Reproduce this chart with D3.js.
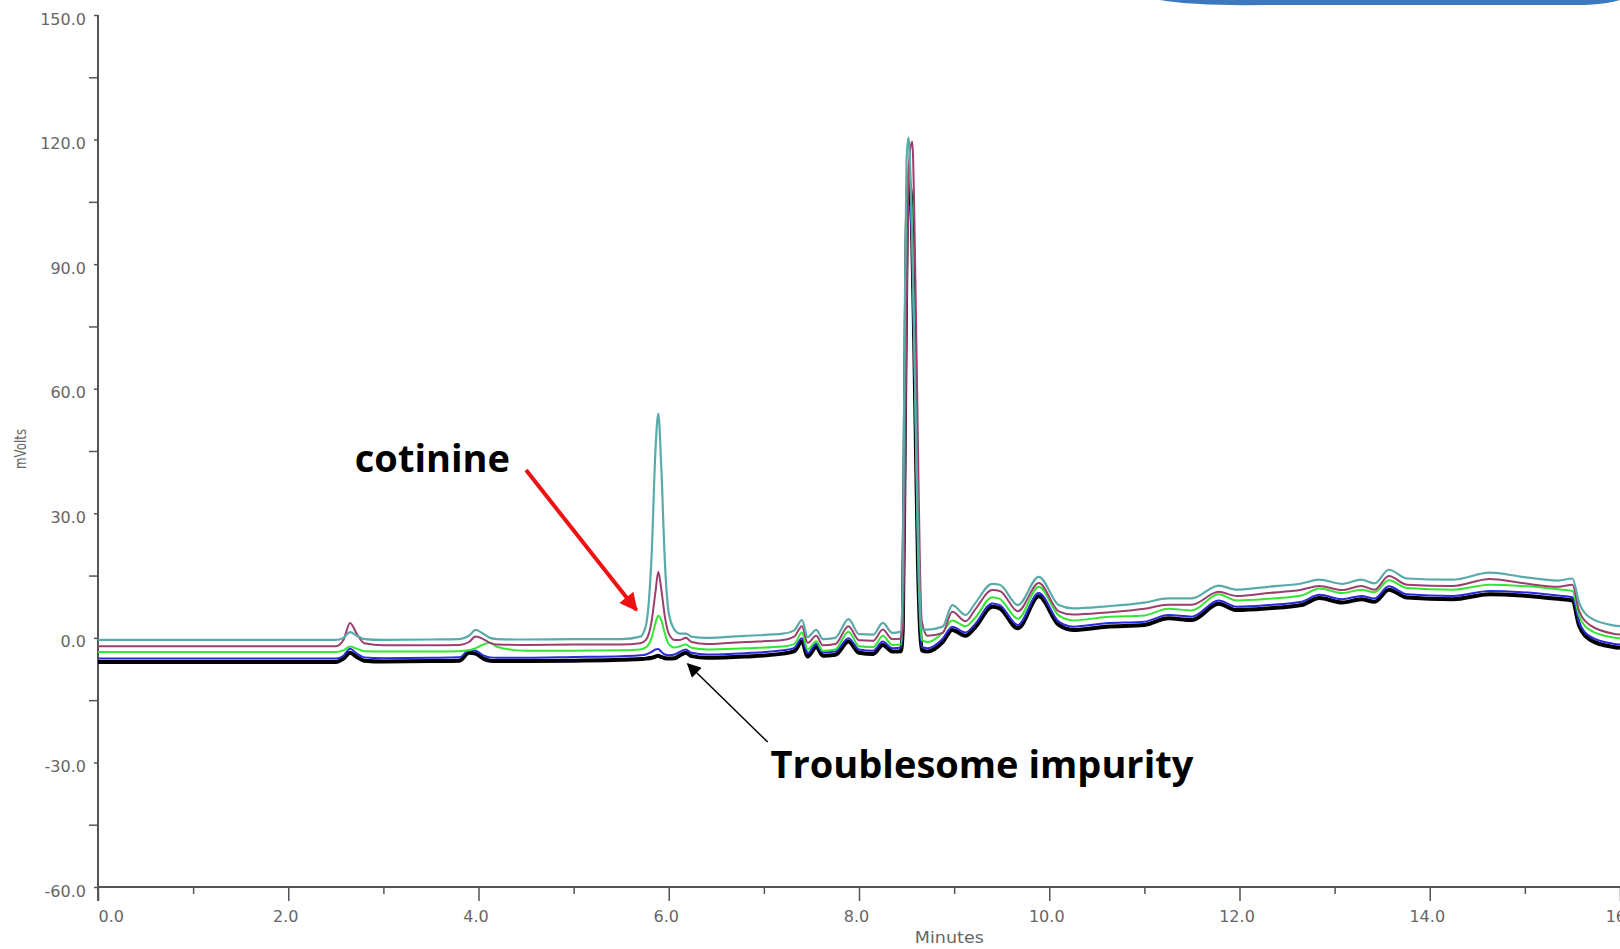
<!DOCTYPE html>
<html>

<head>
  <title>Cotinine chromatogram</title>
  <script src="https://d3js.org/d3.v7.min.js"></script>
  <style>
    body {
      margin: 0;
      background: #fff;
    }

    svg {
      display: block;
      background-color: #fff;
    }

    .tick text {
      font-family: "DejaVu Sans", Verdana, sans-serif;
      font-size: 16px;
      fill: #666;
    }

    .note {
      font-family: "Open Sans", "Noto Sans", sans-serif;
      font-weight: bold;
      fill: #000;
    }
  </style>
</head>

<body>
  <script>
    // retention time (minutes), shared by all traces
    const times = [
      0, 2.5, 2.58, 2.65, 2.72, 2.8, 3.0, 3.5, 3.8, 3.9,
      3.97, 4.05, 4.12, 4.2, 4.5, 5.0, 5.5, 5.7, 5.76, 5.82,
      5.86, 5.89, 5.92, 5.96, 6.0, 6.06, 6.12, 6.18, 6.24, 6.4,
      6.8, 7.2, 7.32, 7.4, 7.46, 7.55, 7.62, 7.75, 7.89, 8.0,
      8.15, 8.25, 8.35, 8.44, 8.46, 8.48, 8.50, 8.52, 8.54, 8.56,
      8.58, 8.60, 8.62, 8.64, 8.66, 8.72, 8.88, 8.98, 9.12, 9.22,
      9.4, 9.48, 9.67, 9.89, 10.1, 10.25, 10.6, 11.0, 11.25, 11.5,
      11.78, 11.97, 12.3, 12.65, 12.84, 13.08, 13.28, 13.42, 13.57, 13.76,
      14.24, 14.63, 14.97, 15.35, 15.5, 15.57, 15.69, 15.93, 16.0
    ];

    // mVolts per trace
    const tealTrace = [
      -0.5, -0.5, 0.0, 1.4, 0.5, -0.3, -0.5, -0.4, -0.3, 0.5,
      1.9, 1.0, 0.0, -0.3, -0.4, -0.3, -0.3, 0.3, 3.0, 20,
      45, 54, 42, 18, 6, 2, 1.0, 1.0, 0.3, 0.0,
      0.5, 1.0, 1.8, 4.3, 0.2, 1.9, -0.3, 0.0, 4.5, 0.9,
      0.8, 3.6, 1.2, 1.5, 15, 75, 115, 120.5, 112, 95,
      72, 50, 26, 9, 2, 2.0, 2.7, 7.9, 5.5, 8.3,
      13.0, 12.8, 7.9, 14.7, 7.9, 7.1, 7.6, 8.5, 9.5, 9.5,
      12.6, 11.6, 12.3, 13.1, 14.0, 13.0, 14.0, 13.1, 16.4, 14.3,
      14.0, 15.7, 14.7, 13.8, 14.3, 8.5, 4.8, 3.0, 2.8
    ];
    const maroonTrace = [
      -2.0, -2.0, -0.5, 3.6, 1.0, -1.3, -1.8, -1.8, -1.7, -1.0,
      0.3, -0.3, -1.2, -1.6, -1.7, -1.6, -1.6, -1.3, -0.5, 4,
      11, 15.9, 12, 5, 1, -0.5, -0.5, 0.0, -1.0, -1.5,
      -1.0, -0.5, 0.3, 2.8, -1.2, 0.5, -1.8, -1.5, 2.8, -0.6,
      -0.7, 2.0, -0.3, -0.2, 3, 30, 80, 110, 118, 119.5,
      104, 76, 46, 18, 4, 0.5, 1.2, 6.3, 4.0, 6.8,
      11.5, 11.3, 6.4, 13.2, 6.4, 5.6, 6.1, 7.0, 8.0, 8.0,
      11.1, 10.1, 10.8, 11.6, 12.5, 11.5, 12.5, 11.6, 14.9, 12.8,
      12.5, 14.2, 13.2, 12.3, 12.8, 6.5, 3.0, 1.0, 0.8
    ];
    const greenTrace = [
      -3.4, -3.4, -3.0, -2.1, -2.6, -3.2, -3.3, -3.3, -3.2, -3.0,
      -2.5, -1.6, -1.2, -2.2, -3.1, -3.1, -3.0, -2.8, -2.3, 0,
      3.5, 5.3, 4.3, 1.0, -1.5, -2.3, -2.0, -1.6, -2.4, -2.8,
      -2.5, -2.1, -1.5, 1.3, -2.8, -0.8, -3.1, -2.8, 1.5, -2.0,
      -2.2, 0.5, -1.7, -1.6, 5, 50, 100, 114, 110, 98,
      74, 46, 21, 6, -0.5, -1.0, 1.3, 4.2, 2.8, 4.8,
      9.8, 9.4, 4.6, 12.3, 5.4, 4.2, 5.0, 5.4, 7.0, 6.6,
      10.5, 9.0, 9.4, 10.2, 11.9, 10.8, 11.6, 11.0, 13.9, 12.0,
      11.6, 12.8, 12.5, 11.7, 11.3, 5.3, 1.8, 0.1, -0.1
    ];
    const blueTrace = [
      -5.0, -5.0, -4.3, -2.6, -3.8, -4.7, -4.9, -4.8, -4.7, -3.0,
      -3.1, -4.2, -4.7, -4.8, -4.8, -4.6, -4.4, -4.2, -4.0, -3.4,
      -2.8, -2.7, -3.3, -4.0, -4.2, -4.0, -3.3, -2.8, -3.6, -4.0,
      -3.7, -3.0, -2.4, -0.1, -3.7, -1.4, -3.5, -3.3, -0.1, -2.8,
      -3.1, -0.9, -2.5, -2.4, 3, 42, 90, 104, 103, 93,
      70, 44, 19, 4, -2.2, -2.5, -0.2, 2.7, 1.3, 3.3,
      8.3, 7.9, 3.1, 10.8, 3.9, 2.7, 3.5, 3.9, 5.5, 5.1,
      9.0, 7.5, 7.9, 8.7, 10.4, 9.3, 10.1, 9.5, 12.4, 10.5,
      10.1, 11.3, 11.0, 10.2, 9.8, 3.8, 0.3, -1.4, -1.6
    ];
    const blackTrace = [
      -5.8, -5.8, -5.0, -3.6, -4.6, -5.5, -5.7, -5.6, -5.5, -3.6,
      -3.8, -5.0, -5.5, -5.6, -5.6, -5.5, -5.3, -5.1, -5.0, -4.8,
      -4.5, -4.3, -4.6, -4.9, -5.0, -4.9, -4.2, -3.6, -4.4, -4.8,
      -4.5, -3.8, -3.2, -0.9, -4.5, -2.2, -4.3, -4.1, -0.9, -3.6,
      -3.9, -1.7, -3.3, -3.2, 2, 45, 95, 110, 108, 96,
      72, 44, 18, 3, -3.0, -3.3, -1.0, 1.9, 0.5, 2.5,
      7.5, 7.1, 2.3, 10.0, 3.1, 1.9, 2.7, 3.1, 4.7, 4.3,
      8.2, 6.7, 7.1, 7.9, 9.6, 8.5, 9.3, 8.7, 11.6, 9.7,
      9.3, 10.5, 10.2, 9.4, 9.0, 3.0, -0.5, -2.2, -2.4
    ];

    const yMajorTicks = [-60, -30, 0, 30, 60, 90, 120, 150];
    const yMinorTicks = [-45, -15, 15, 45, 75, 105, 135];
    const xMajorTicks = [0, 2, 4, 6, 8, 10, 12, 14, 16];
    const xMinorTicks = [1, 3, 5, 7, 9, 11, 13, 15];

    const margin = { top: 15, right: 0, bottom: 62, left: 98 };
    const width = 1620 - margin.left - margin.right;
    const height = 949 - margin.top - margin.bottom;

    const root = d3.select("body")
      .append("svg")
      .attr("width", width + margin.left + margin.right)
      .attr("height", height + margin.top + margin.bottom);

    // blue banner edge from the slide, top right
    root.append("path")
      .attr("d", "M1160,0 Q1195,6 1265,5 L1585,5 Q1608,4 1620,0 Z")
      .attr("fill", "#3b78bd");

    const svg = root.append("g")
      .attr("transform", `translate(${margin.left}, ${margin.top})`);

    const x = d3.scaleLinear().domain([0, 16]).range([0, width]);
    const y = d3.scaleLinear().domain([-60, 150]).range([height, 0]);

    // Y axis
    const yAxis = svg.append("g")
      .call(d3.axisLeft(y).tickValues(yMajorTicks).tickSize(4).tickPadding(8)
        .tickFormat(d => d.toFixed(1)));
    yAxis.select(".domain").remove();
    yAxis.selectAll(".tick text").attr("dy", "0.57em");

    const yMinor = svg.append("g")
      .call(d3.axisLeft(y).tickValues(yMinorTicks).tickSize(9).tickFormat(""));
    yMinor.select(".domain").remove();

    // X axis
    const xAxis = svg.append("g")
      .attr("transform", `translate(0,${height})`)
      .call(d3.axisBottom(x).tickValues(xMajorTicks).tickSize(14).tickPadding(10)
        .tickFormat(d => d.toFixed(1)));
    xAxis.select(".domain").remove();
    xAxis.selectAll(".tick text")
      .attr("text-anchor", d => d === 0 ? "start" : "middle")
      .attr("dx", d => d === 0 ? 0 : (d === 16 ? 3 : -3));

    const xMinor = svg.append("g")
      .attr("transform", `translate(0,${height})`)
      .call(d3.axisBottom(x).tickValues(xMinorTicks).tickSize(7).tickFormat(""));
    xMinor.select(".domain").remove();

    svg.selectAll(".tick line").attr("stroke", "#555").attr("stroke-width", 1.5);

    svg.append("line")
      .attr("x1", 0).attr("x2", 0)
      .attr("y1", y(150)).attr("y2", height + 14)
      .attr("stroke", "#555").attr("stroke-width", 2);
    svg.append("line")
      .attr("x1", 0).attr("x2", width)
      .attr("y1", height).attr("y2", height)
      .attr("stroke", "#555").attr("stroke-width", 2);

    svg.append("text")
      .attr("x", x(8.95))
      .attr("y", height + 56)
      .attr("text-anchor", "middle")
      .attr("font-family", "DejaVu Sans, sans-serif")
      .attr("font-size", 15)
      .attr("fill", "#666")
      .attr("textLength", 69)
      .attr("lengthAdjust", "spacingAndGlyphs")
      .text("Minutes");

    svg.append("text")
      .attr("transform", `translate(${-72}, ${y(45.5)}) rotate(-90)`)
      .attr("text-anchor", "middle")
      .attr("font-family", "DejaVu Sans, sans-serif")
      .attr("font-size", 15)
      .attr("fill", "#666")
      .attr("textLength", 40)
      .attr("lengthAdjust", "spacingAndGlyphs")
      .text("mVolts");

    // traces, drawn bottom first
    const traces = [
      { name: "black", values: blackTrace, color: "#000000", w: 4 },
      { name: "blue", values: blueTrace, color: "#2a2ad8", w: 2 },
      { name: "green", values: greenTrace, color: "#33e633", w: 2 },
      { name: "maroon", values: maroonTrace, color: "#9b3f6e", w: 2 },
      { name: "teal", values: tealTrace, color: "#5aaaaa", w: 2.2 }
    ];

    const line = d3.line()
      .x(d => x(d[0]))
      .y(d => y(d[1]))
      .curve(d3.curveMonotoneX);

    traces.forEach(tr => {
      const pts = times.map((t, i) => [t, tr.values[i]]);
      svg.append("path")
        .datum(pts)
        .attr("fill", "none")
        .attr("stroke", tr.color)
        .attr("stroke-width", tr.w)
        .attr("stroke-linejoin", "round")
        .attr("d", line);
    });

    // annotations (positions in data units)
    const defs = root.append("defs");
    defs.append("marker")
      .attr("id", "headRed")
      .attr("viewBox", "0 0 10 10")
      .attr("refX", 9).attr("refY", 5)
      .attr("markerUnits", "userSpaceOnUse")
      .attr("markerWidth", 22).attr("markerHeight", 18)
      .attr("orient", "auto")
      .append("path").attr("d", "M0,0 L10,5 L0,10 z").attr("fill", "#ee1111");
    defs.append("marker")
      .attr("id", "headBlack")
      .attr("viewBox", "0 0 10 10")
      .attr("refX", 9).attr("refY", 5)
      .attr("markerUnits", "userSpaceOnUse")
      .attr("markerWidth", 18).attr("markerHeight", 14)
      .attr("orient", "auto")
      .append("path").attr("d", "M0,0 L10,5 L0,10 z").attr("fill", "#000");

    svg.append("line")
      .attr("x1", x(4.5)).attr("y1", y(40.4))
      .attr("x2", x(5.66)).attr("y2", y(6.7))
      .attr("stroke", "#ee1111").attr("stroke-width", 4)
      .attr("marker-end", "url(#headRed)");

    svg.append("line")
      .attr("x1", x(7.04)).attr("y1", y(-25.1))
      .attr("x2", x(6.2)).attr("y2", y(-6.3))
      .attr("stroke", "#000").attr("stroke-width", 1.5)
      .attr("marker-end", "url(#headBlack)");

    svg.append("text")
      .attr("class", "note")
      .attr("x", x(2.7)).attr("y", y(40))
      .attr("font-size", 38)
      .text("cotinine");

    svg.append("text")
      .attr("class", "note")
      .attr("x", x(7.07)).attr("y", y(-33.8))
      .attr("font-size", 38)
      .text("Troublesome impurity");
  </script>
</body>

</html>
